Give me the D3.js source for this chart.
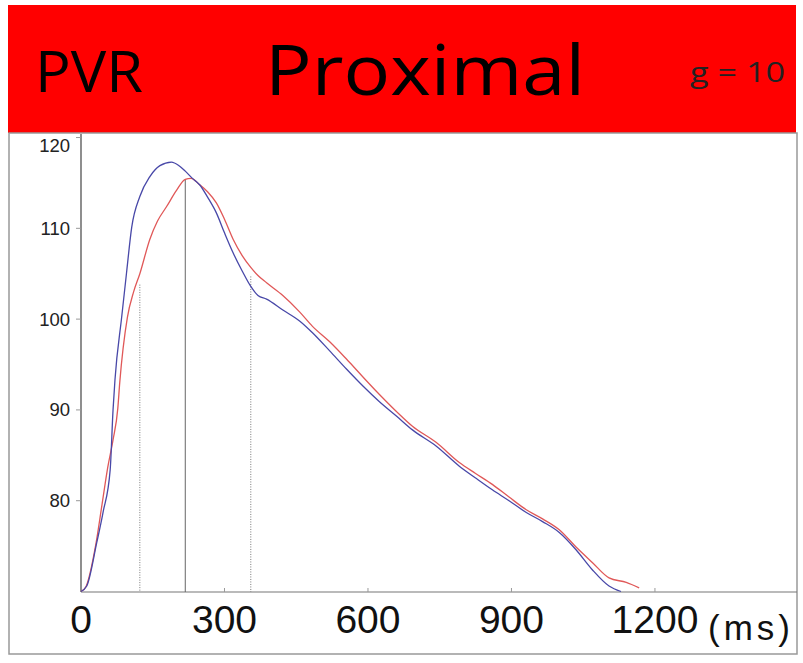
<!DOCTYPE html>
<html>
<head>
<meta charset="utf-8">
<script src="https://cdn.jsdelivr.net/npm/d3@7"></script>
<style>
  body { margin: 0; background: #fff; }
  svg { display: block; }
</style>
</head>
<body>
<svg width="803" height="663"></svg>
<script>
// time (ms) and pressure values
const blueMs = [0, 12, 33, 46, 61, 67, 71, 85, 95, 106, 123, 144, 165, 189, 205, 218, 233, 248, 265, 283, 300, 318, 337, 355, 370, 388, 422, 457, 484, 520, 555, 590, 624, 660, 693, 743, 791, 825, 860, 895, 931, 965, 1000, 1035, 1069, 1104, 1129];
const blueVal = [70, 70.6, 75.4, 78.7, 83.4, 90, 93.3, 100.2, 105, 110.1, 113.5, 115.7, 116.9, 117.3, 116.9, 116.3, 115.5, 114.8, 113.4, 111.7, 109.5, 107.3, 105.3, 103.6, 102.6, 102.2, 101, 99.8, 98.5, 96.5, 94.5, 92.6, 90.9, 89.3, 87.8, 86, 83.8, 82.5, 81.2, 80, 78.7, 77.7, 76.5, 74.6, 72.4, 70.6, 70];

const redMs = [0, 10, 31, 44, 56, 67, 77, 81, 97, 110, 123, 144, 160, 179, 200, 218, 230, 248, 265, 283, 300, 318, 337, 355, 370, 388, 422, 457, 484, 520, 555, 590, 624, 660, 693, 743, 791, 825, 860, 895, 931, 965, 1000, 1035, 1069, 1104, 1140, 1167];
const redVal = [70, 70.5, 75.2, 79.6, 83.7, 86.7, 90.2, 93, 100.2, 103, 105, 108.8, 110.8, 112.4, 114.2, 115.4, 115.5, 114.8, 114, 112.8, 111, 108.8, 107, 105.7, 104.8, 104, 102.6, 100.8, 99.2, 97.5, 95.6, 93.6, 91.7, 89.8, 88.2, 86.4, 84.2, 83, 81.8, 80.4, 79, 78, 76.8, 74.9, 73.2, 71.5, 71, 70.4];

// vertical markers: time, top value, dotted or not
const markerMs = [123, 218, 355];
const markerTop = [103.8, 115.4, 104.7];
const markerDotted = [true, false, true];

const xTicks = [0, 300, 600, 900, 1200];
const yTicks = [80, 90, 100, 110, 120];

const svg = d3.select("svg");

// red title band
svg.append("rect")
  .attr("x", 8).attr("y", 5).attr("width", 788).attr("height", 128)
  .attr("fill", "#ff0000");

svg.append("text")
  .attr("x", 35).attr("y", 92)
  .attr("font-family", "Open Sans").attr("font-size", 56)
  .attr("textLength", 108).attr("lengthAdjust", "spacingAndGlyphs")
  .text("PVR");

svg.append("text")
  .attr("x", 265).attr("y", 95)
  .attr("font-family", "Open Sans").attr("font-size", 70)
  .attr("textLength", 320).attr("lengthAdjust", "spacingAndGlyphs")
  .text("Proximal");

svg.append("text")
  .attr("x", 690).attr("y", 82)
  .attr("font-family", "Open Sans").attr("font-size", 28)
  .attr("textLength", 95).attr("lengthAdjust", "spacingAndGlyphs")
  .attr("fill", "#222")
  .text("g = 10");

// chart frame
svg.append("rect")
  .attr("x", 9).attr("y", 133).attr("width", 788).attr("height", 521)
  .attr("fill", "none").attr("stroke", "#999").attr("stroke-width", 1.5);

const x = d3.scaleLinear().domain([0, 1497]).range([81, 797]);
const y = d3.scaleLinear().domain([70, 120.3]).range([591.5, 134.8]);

// axes
svg.append("line")
  .attr("x1", 81).attr("x2", 81).attr("y1", 134).attr("y2", 592)
  .attr("stroke", "#444").attr("stroke-width", 1.2);
svg.append("line")
  .attr("x1", 81).attr("x2", 797).attr("y1", 592).attr("y2", 592)
  .attr("stroke", "#777").attr("stroke-width", 1.2);

svg.append("g").selectAll("line")
  .data(yTicks)
  .join("line")
  .attr("x1", 76).attr("x2", 81)
  .attr("y1", d => y(d)).attr("y2", d => y(d))
  .attr("stroke", "#999");

svg.append("g").selectAll("text")
  .data(yTicks)
  .join("text")
  .attr("x", 70)
  .attr("y", d => d === 120 ? y(d) + 8 : y(d))
  .attr("dy", "0.35em")
  .attr("text-anchor", "end")
  .attr("font-family", "Liberation Sans, Arial").attr("font-size", 18.5)
  .attr("fill", "#222")
  .text(d => d);

svg.append("g").selectAll("line")
  .data(xTicks.slice(1))
  .join("line")
  .attr("x1", d => x(d)).attr("x2", d => x(d))
  .attr("y1", 588).attr("y2", 592)
  .attr("stroke", "#999");

svg.append("g").selectAll("text")
  .data(xTicks)
  .join("text")
  .attr("x", d => x(d)).attr("y", 633)
  .attr("text-anchor", "middle")
  .attr("font-family", "Liberation Sans, Arial").attr("font-size", 39)
  .attr("fill", "#111")
  .text(d => d);

svg.append("text")
  .attr("x", 708).attr("y", 640)
  .attr("font-family", "Liberation Sans, Arial").attr("font-size", 35)
  .attr("textLength", 82).attr("lengthAdjust", "spacing")
  .attr("fill", "#111")
  .text("(ms)");

// marker lines
svg.append("g").selectAll("line")
  .data(markerMs)
  .join("line")
  .attr("x1", d => x(d)).attr("x2", d => x(d))
  .attr("y1", (d, i) => y(markerTop[i])).attr("y2", 592)
  .attr("stroke", (d, i) => markerDotted[i] ? "#777" : "#666")
  .attr("stroke-width", 1)
  .attr("stroke-dasharray", (d, i) => markerDotted[i] ? "1,1.5" : null);

// traces
const line = d3.line()
  .x(d => x(d[0]))
  .y(d => y(d[1]))
  .curve(d3.curveMonotoneX);

svg.append("path")
  .datum(redMs.map((m, i) => [m, redVal[i]]))
  .attr("d", line)
  .attr("fill", "none").attr("stroke", "#e05858").attr("stroke-width", 1.3);

svg.append("path")
  .datum(blueMs.map((m, i) => [m, blueVal[i]]))
  .attr("d", line)
  .attr("fill", "none").attr("stroke", "#4848a8").attr("stroke-width", 1.3);
</script>
</body>
</html>
